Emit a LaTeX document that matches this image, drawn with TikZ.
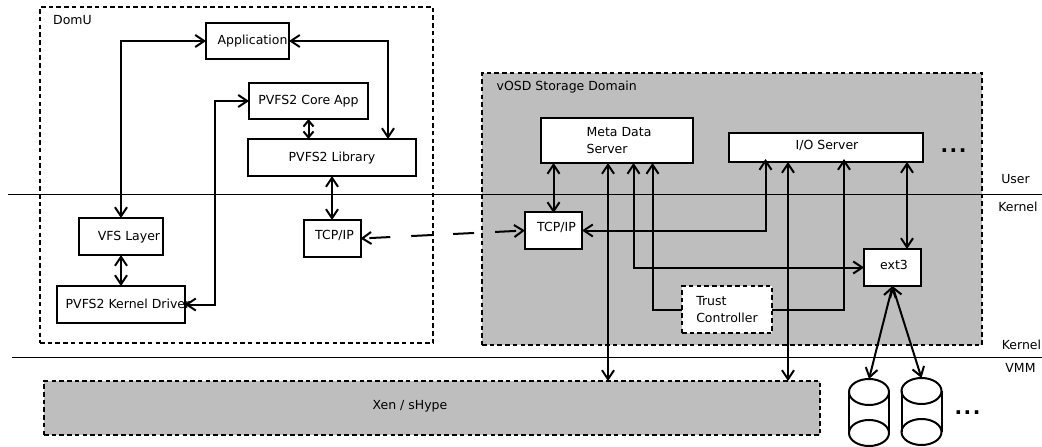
\documentclass[tikz,border=0pt]{standalone}
\usepackage{fontspec}
\setmainfont{DejaVu Sans}
\usetikzlibrary{arrows.meta,positioning}
\definecolor{domgray}{gray}{0.745}
\newcommand{\nudge}[3]{\makebox[0pt]{\hspace{#1}\raisebox{#2}{#3}}}

\begin{document}
\begin{tikzpicture}[x=1pt,y=-1pt]

\tikzset{box/.style={fill=white,draw=black,line width=2pt,inner sep=0pt,outer sep=0pt,shape=rectangle,font=\fontsize{12.5}{17}\selectfont},
oneline/.style={box,text height=9.5pt,text depth=2.5pt},
twoline/.style={box,align=left},
domainbox/.style={draw=black,line width=2pt,dash pattern=on 4.5pt off 3.2pt,inner sep=0pt,outer sep=0pt,shape=rectangle},
diskbox/.style={inner sep=0pt,outer sep=0pt,minimum width=40pt,minimum height=67pt,shape=rectangle},
disk line/.style={line width=2pt},
note/.style={inner sep=0pt,font=\fontsize{12.5}{17}\selectfont},
dotnote/.style={inner sep=0pt,font=\fontsize{20}{20}\selectfont\bfseries},
boundary/.style={draw=black,line width=0.8pt},
biarrow/.style={<->,>={Straight Barb[length=9pt,width=12pt]},line width=2pt},
shortarrow/.style={<->,>={Straight Barb[length=6pt,width=10pt]},line width=2pt},
uparrow/.style={->,>={Straight Barb[length=9pt,width=12pt]},line width=2pt}}

\useasboundingbox (0,0) rectangle (1042,447);

% Domains
\node (domu) [domainbox,minimum width=393pt,minimum height=336pt] at (236.5,175) {};
\node (vosd) [domainbox,fill=domgray,minimum width=500pt,minimum height=272pt] at (732,209) {};
\node (xen) [domainbox,fill=domgray,minimum width=776pt,minimum height=54pt,font=\fontsize{12.5}{17}\selectfont] at (432,408) {\nudge{-44pt}{5.5pt}{Xen / sHype}};

% Boundaries
\coordinate (userl) at (8,194);
\coordinate (userr) at (1042,194);
\coordinate (vmml) at (12,357.5);
\coordinate (vmmr) at (1042,357.5);
\draw [boundary] (userl) -- (userr);
\draw [boundary] (vmml) -- (vmmr);

% Labels
\node (domulabel) [note,below right=8pt and 13pt of domu.north west] {DomU};
\node (vosdlabel) [note,below right=8pt and 14.5pt of vosd.north west] {vOSD Storage Domain};
\node (userlabel) [note] at (1015.5,179) {User};
\node (kernela) [note] at (1018,207) {Kernel};
\node (kernelb) [note] at (1021.5,345) {Kernel};
\node (vmmlabel) [note] at (1020.5,368) {VMM};
\node (dotsa) [dotnote] at (953.5,151) {.\hspace{1.5pt}.\hspace{1.5pt}.};
\node (dotsb) [dotnote] at (967.5,413) {.\hspace{1.5pt}.\hspace{1.5pt}.};

% Guest boxes
\node (app) [oneline,minimum width=83pt,minimum height=36pt] at (247.5,41) {\nudge{10pt}{0pt}{Application}};
\node (core) [oneline,minimum width=119pt,minimum height=36pt,below right=24pt and -40pt of app] {PVFS2 Core App};
\node (lib) [oneline,minimum width=168pt,minimum height=37pt,below=20pt of core,xshift=23.5pt] {PVFS2 Library};
\node (tcpl) [oneline,minimum width=57pt,minimum height=37pt,below=44pt of lib] {\nudge{5pt}{2.5pt}{TCP/IP}};
\node (vfs) [oneline,minimum width=84pt,minimum height=37pt] at (121,236.5) {\nudge{16pt}{0pt}{VFS Layer}};
\node (driver) [oneline,minimum width=128pt,minimum height=37pt,below=31pt of vfs] {\nudge{14pt}{0pt}{PVFS2 Kernel Driver}};

% Storage boxes
\node (meta) [twoline,minimum width=152pt,minimum height=45pt,below right=45pt and 59pt of vosd.north west] {\hspace{4pt}Meta Data\\\hspace{4pt}Server};
\node (io) [oneline,minimum width=194pt,minimum height=29pt,below right=60pt and 247pt of vosd.north west] {\nudge{2pt}{1.5pt}{I/O Server}};
\node (tcpr) [oneline,minimum width=57pt,minimum height=37pt,below right=139pt and 43pt of vosd.north west] {\nudge{6pt}{3pt}{TCP/IP}};
\node (ext) [oneline,minimum width=57pt,minimum height=37pt,below right=176pt and 382pt of vosd.north west] {\nudge{3pt}{1.5pt}{ext3}};
\node (trust) [twoline,dash pattern=on 4.5pt off 3.2pt,minimum width=90pt,minimum height=47pt,below right=213pt and 200pt of vosd.north west] {Trust\\Controller};

% Disks
\foreach \n/\x/\y in {disk1/869/412.5,disk2/921.5/411.5} {
\node (\n) [diskbox] at (\x,\y) {};
\draw [disk line] ([yshift=-13pt]\n.north) ellipse [x radius=20pt,y radius=13pt];
\draw [disk line] ([yshift=13pt]\n.south) ellipse [x radius=20pt,y radius=13pt];
\draw [disk line] ([yshift=-13pt]\n.north west) -- ([yshift=13pt]\n.south west);
\draw [disk line] ([yshift=-13pt]\n.north east) -- ([yshift=13pt]\n.south east);
}

% Arrows in the guest
\draw [biarrow] (vfs.north) |- (app.west);
\draw [biarrow] (app.east) -| ([xshift=-28pt]lib.north east);
\draw [biarrow] (core.west) -- ++(-34,0) |- (driver.east);
\draw [shortarrow] (core.south) -- (core.south |- lib.north);
\draw [biarrow] (lib.south) -- (lib.south |- tcpl.north);
\draw [biarrow] (vfs.south) -- (driver.north);

% Dashed link between the two stacks
\draw [biarrow,dash pattern=on 21pt off 21pt,dash phase=36pt] (tcpl.east) -- (tcpr.west);

% Arrows in the storage domain
\coordinate (xena) at ([xshift=176pt]xen.north);
\coordinate (xenb) at ([xshift=356pt]xen.north);
\coordinate (metaext) at ([xshift=16.5pt]meta.south);
\coordinate (metatrust) at ([xshift=35.5pt]meta.south);
\coordinate (iotcp) at ([xshift=-60.5pt,yshift=3pt]io.south);
\coordinate (iotrust) at ([xshift=18pt,yshift=3pt]io.south);
\draw [biarrow] ([xshift=-63.5pt]meta.south) -- ([xshift=-63.5pt,yshift=-1pt]meta.south |- tcpr.north);
\draw [biarrow] (xena |- meta.south) -- (xena);
\draw [biarrow] (xenb |- io.south) -- (xenb);
\draw [biarrow] (metaext) |- (ext.west);
\draw [biarrow] (tcpr.east) -| (iotcp);
\draw [uparrow] (trust.west) -| (metatrust);
\draw [uparrow] (trust.east) -| (iotrust);
\draw [biarrow] ([xshift=81pt]io.south) -- ([xshift=81pt]io.south |- ext.north);
\draw [biarrow] (ext.south) -- (disk1.north);
\draw [biarrow] (ext.south) -- (disk2.north);

\end{tikzpicture}
\end{document}
